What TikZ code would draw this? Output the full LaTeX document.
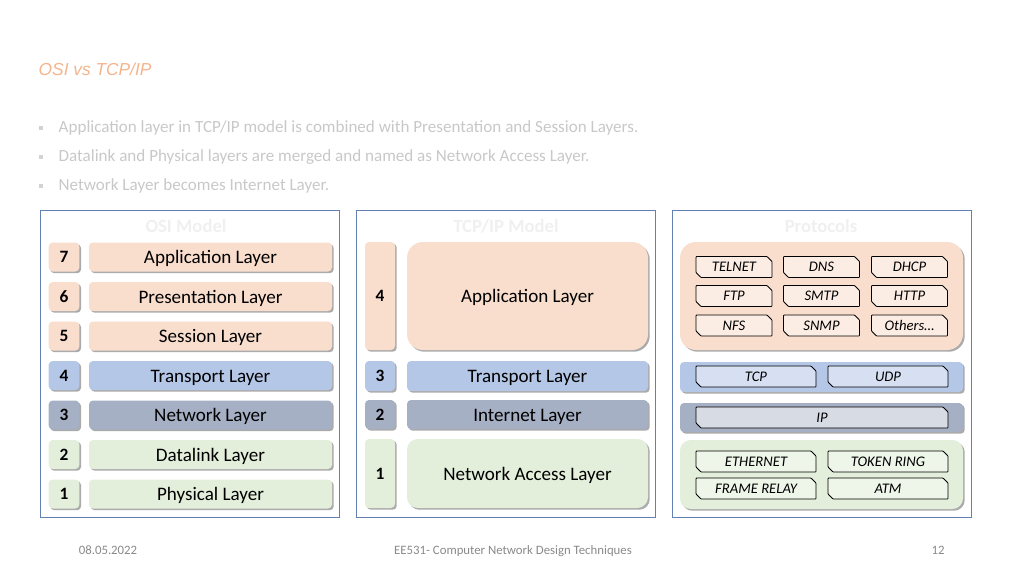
\documentclass[tikz,border=0pt]{standalone}
\usepackage{fontspec}
\setmainfont{Carlito}
\newfontfamily\arialfont{Liberation Sans}
\usetikzlibrary{shadows}

\definecolor{appc}{RGB}{249,222,206}
\definecolor{trac}{RGB}{181,199,231}
\definecolor{netc}{RGB}{165,176,196}
\definecolor{linc}{RGB}{227,239,219}
\definecolor{framec}{RGB}{98,128,178}
\definecolor{titlec}{RGB}{244,180,140}
\definecolor{bulletc}{RGB}{200,200,200}
\definecolor{footc}{RGB}{137,137,137}

\tikzset{
  panel/.style={draw=framec, line width=0.6pt, fill=white},
  paneltitle/.style={font=\fontsize{14}{16}\selectfont\bfseries, text=black!6},
  layer/.style={rounded corners=3pt, inner sep=0pt, text height=11pt, text depth=1pt,
    drop shadow={shadow xshift=1.3pt, shadow yshift=-1.3pt, fill=black!55, opacity=0.6},
    font=\fontsize{14.3}{17}\selectfont},
  numbox/.style={layer, minimum width=23pt, text height=8.5pt, text depth=0pt,
    font=\fontsize{13}{15}\selectfont\bfseries},
  band/.style={layer, rounded corners=8pt, minimum width=212.25pt},
  protoline/.style={draw, line width=0.6pt, rounded corners=0.5pt},
  prototext/.style={inner sep=0pt, font=\fontsize{11}{13}\selectfont\itshape},
  bul/.style={fill=bulletc!80!white, minimum size=3.6pt, inner sep=0pt},
  bultext/.style={anchor=west, text=bulletc, font=\fontsize{12.8}{15}\selectfont},
  foot/.style={text=footc, font=\fontsize{9.6}{11}\selectfont}
}

% name, x, y, half width, fill, text
\newcommand\protobox[6]{%
  \filldraw[protoline, fill=#5] (#2-#4,#3-10.5) -- (#2+#4-5,#3-10.5) -- (#2+#4,#3-5.5)
    -- (#2+#4,#3+10.5) -- (#2-#4+5,#3+10.5) -- (#2-#4,#3+5.5) -- cycle;
  \node[prototext] (#1) at (#2,#3) {#6};
}

\begin{document}
\begin{tikzpicture}[x=0.75pt,y=0.75pt,yscale=-1,xscale=1]
\useasboundingbox (0,0) rectangle (1024,576);

\node[anchor=west, text=titlec, font=\arialfont\fontsize{13}{15}\selectfont\itshape] (title) at (34,69) {OSI vs TCP/IP};

\node[bul] (sq1) at (41,128) {};
\node[bultext] (bt1) at (54,128) {Application layer in TCP/IP model is combined with Presentation and Session Layers.};
\node[bul] (sq2) at (41,157) {};
\node[bultext] (bt2) at (54,157) {Datalink and Physical layers are merged and named as Network Access Layer.};
\node[bul] (sq3) at (41,186) {};
\node[bultext] (bt3) at (54,186) {Network Layer becomes Internet Layer.};

\draw[panel] (40,210) rectangle (339,517);
\draw[panel] (356,210) rectangle (655,517);
\draw[panel] (672,210) rectangle (971,517);
\node[paneltitle] (osititle) at (186,226) {OSI Model};
\node[paneltitle] (tcptitle) at (506,226) {TCP/IP Model};
\node[paneltitle] (prottitle) at (821,226) {Protocols};

\foreach \n/\t/\c [count=\i from 0] in {7/Application Layer/appc, 6/Presentation Layer/appc,
    5/Session Layer/appc, 4/Transport Layer/trac, 3/Network Layer/netc,
    2/Datalink Layer/linc, 1/Physical Layer/linc} {
  \node[numbox, fill=\c, minimum height=21.75pt] (osinum\n) at (64,257+39.5*\i) {\n};
  \node[layer, fill=\c, minimum width=182.25pt, minimum height=21.75pt] (osi\n) at (210.5,257+39.5*\i) {\t};
}

\node[numbox, fill=appc, minimum width=22.5pt, minimum height=81pt] (tcpnum4) at (380,296) {4};
\node[band, fill=appc, minimum width=180.75pt, minimum height=81pt, rounded corners=12pt] (tcp4) at (527.5,296) {Application Layer};
\node[numbox, fill=trac, minimum width=22.5pt, minimum height=22.5pt] (tcpnum3) at (380,376) {3};
\node[layer, fill=trac, minimum width=180.75pt, minimum height=22.5pt] (tcp3) at (527.5,376) {Transport Layer};
\node[numbox, fill=netc, minimum width=22.5pt, minimum height=21.75pt] (tcpnum2) at (380,414.5) {2};
\node[layer, fill=netc, minimum width=180.75pt, minimum height=21.75pt] (tcp2) at (527.5,414.5) {Internet Layer};
\node[numbox, fill=linc, minimum width=22.5pt, minimum height=51.75pt] (tcpnum1) at (380,473.5) {1};
\node[band, fill=linc, minimum width=180.75pt, minimum height=51.75pt] (tcp1) at (527.5,473.5) {Network Access Layer};

\node[band, fill=appc, minimum height=81pt, rounded corners=12pt] (papp) at (821.5,296) {};
\node[band, fill=trac, minimum height=22.5pt, rounded corners=3pt] (ptra) at (821.5,377) {};
\node[band, fill=netc, minimum height=21.75pt, rounded corners=3pt] (pnet) at (821.5,417.5) {};
\node[band, fill=linc, minimum height=51.75pt] (plin) at (821.5,474.5) {};

\foreach \t/\x/\y/\nm in {TELNET/734/267/telnet, DNS/821.5/267/dns, DHCP/909.5/267/dhcp,
    FTP/734/296/ftp, SMTP/821.5/296/smtp, HTTP/909.5/296/http,
    NFS/734/325.5/nfs, SNMP/821.5/325.5/snmp, Others…/909.5/325.5/others} {
  \protobox{\nm}{\x}{\y}{38}{appc!55!white}{\t}
}

\protobox{tcp}{756}{376.5}{60}{trac!55!white}{TCP}
\protobox{udp}{888}{376.5}{60}{trac!55!white}{UDP}
\protobox{ip}{822}{417.5}{126}{netc!45!white}{IP}
\protobox{ethernet}{756}{461.5}{60}{linc!60!white}{ETHERNET}
\protobox{tokenring}{888}{461.5}{60}{linc!60!white}{TOKEN RING}
\protobox{framerelay}{756}{488.5}{60}{linc!60!white}{FRAME RELAY}
\protobox{atm}{888}{488.5}{60}{linc!60!white}{ATM}

\node[foot] (date) at (108,550) {08.05.2022};
\node[foot] (course) at (513,551) {EE531- Computer Network Design Techniques};
\node[foot] (page) at (938,550) {12};
\end{tikzpicture}
\end{document}
